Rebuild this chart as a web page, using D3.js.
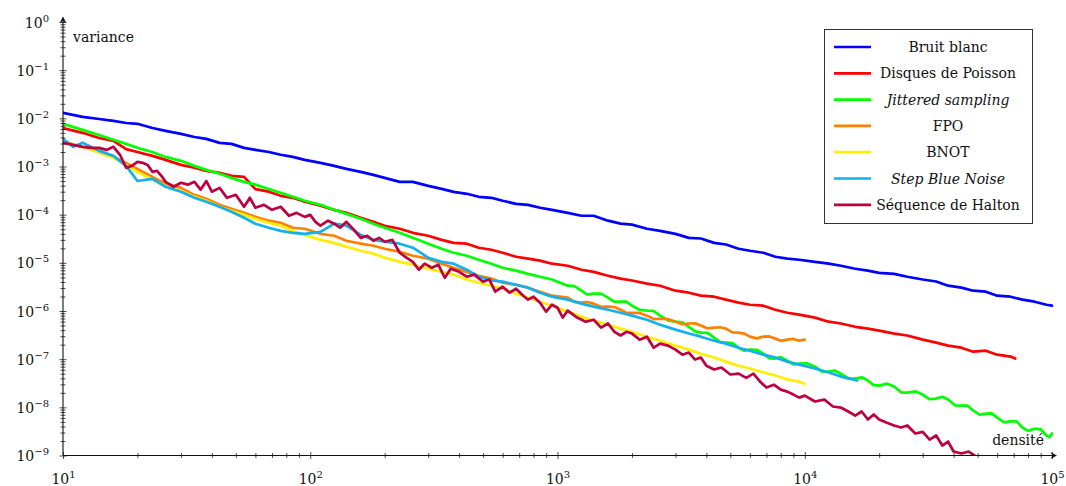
<!DOCTYPE html>
<html><head><meta charset="utf-8">
<script src="https://cdn.jsdelivr.net/npm/d3@7"></script>
<style>
body{margin:0;background:#fff}
svg{display:block}
text{font-family:"DejaVu Serif","Liberation Serif",serif;fill:#111}
</style>
</head><body>
<svg id="chart" width="1066" height="486"></svg>
<script>
// ---- data: [densité, variance] ----
const bruitBlanc = [[10,1.30e-2],[12,1.07e-2],[14,9.7e-3],[16,8.85e-3],[18,8.0e-3],[20,7.7e-3],[23,6.3e-3],[26,5.5e-3],[30,4.75e-3],[34,4.1e-3],[38,3.75e-3],[43,3.1e-3],[48,2.95e-3],[54,2.44e-3],[60,2.22e-3],[68,2.0e-3],[76,1.75e-3],[85,1.58e-3],[95,1.37e-3],
[110,1.19e-3],[125,1.03e-3],[140,8.95e-4],[160,7.75e-4],[180,6.7e-4],[200,5.8e-4],[230,4.8e-4],[260,4.8e-4],[300,3.97e-4],[340,3.44e-4],[380,2.98e-4],[430,2.71e-4],[480,2.35e-4],[540,2.24e-4],[600,1.94e-4],[680,1.68e-4],[760,1.60e-4],[850,1.39e-4],[950,1.26e-4],
[1100,1.09e-4],[1250,9.5e-5],[1400,9.5e-5],[1600,7.5e-5],[1800,6.5e-5],[2000,6.2e-5],[2300,5.1e-5],[2600,4.6e-5],[3000,4.0e-5],[3400,3.3e-5],[3800,3.2e-5],[4300,2.6e-5],[4800,2.4e-5],[5400,1.96e-5],[6000,1.78e-5],[6800,1.62e-5],[7600,1.34e-5],[8500,1.22e-5],[9500,1.16e-5],
[11000,1.05e-5],[12500,9.6e-6],[14000,8.7e-6],[16000,7.55e-6],[18000,6.9e-6],[20000,6.2e-6],[23000,5.9e-6],[26000,5.15e-6],[30000,4.5e-6],[34000,4.1e-6],[38000,3.35e-6],[43000,3.05e-6],[48000,2.64e-6],[54000,2.52e-6],[60000,2.08e-6],[68000,1.98e-6],[76000,1.72e-6],[85000,1.56e-6],[95000,1.35e-6],[100000,1.29e-6]];

const disquesPoisson = [[10,6.3e-3],[12,5.0e-3],[14,3.9e-3],[16,3.4e-3],[18,2.3e-3],[20,2.0e-3],[23,1.66e-3],[26,1.37e-3],[30,1.08e-3],[34,9.4e-4],[38,8.1e-4],[43,7.4e-4],[48,6.4e-4],[54,6.1e-4],[60,3.4e-4],[68,3.0e-4],[76,2.46e-4],[85,2.24e-4],[95,1.85e-4],
[110,1.53e-4],[125,1.26e-4],[140,1.09e-4],[160,8.6e-5],[180,7.1e-5],[200,5.9e-5],[230,5.1e-5],[260,4.2e-5],[300,3.65e-5],[340,3.0e-5],[380,2.6e-5],[430,2.5e-5],[480,2.06e-5],[540,1.87e-5],[600,1.62e-5],[680,1.34e-5],[760,1.22e-5],[850,1.11e-5],[950,9.6e-6],
[1100,8.7e-6],[1250,7.2e-6],[1400,6.5e-6],[1600,5.4e-6],[1800,4.7e-6],[2000,4.3e-6],[2300,3.7e-6],[2600,3.35e-6],[3000,2.64e-6],[3400,2.4e-6],[3800,2.08e-6],[4300,1.98e-6],[4800,1.72e-6],[5400,1.49e-6],[6000,1.35e-6],[6800,1.29e-6],[7600,1.06e-6],[8500,9.2e-7],[9500,8.4e-7],
[11000,7.3e-7],[12500,6.0e-7],[14000,5.5e-7],[16000,4.7e-7],[18000,4.3e-7],[20000,3.9e-7],[23000,3.4e-7],[26000,3.1e-7],[30000,2.54e-7],[34000,2.2e-7],[38000,1.91e-7],[43000,1.73e-7],[48000,1.43e-7],[54000,1.5e-7],[60000,1.24e-7],[68000,1.13e-7],[71000,1.03e-7]];

const jittered = [[10,7.7e-3],[12,5.75e-3],[14,4.5e-3],[16,3.6e-3],[18,2.95e-3],[20,2.44e-3],[23,2.0e-3],[26,1.58e-3],[30,1.31e-3],[34,1.03e-3],[38,8.5e-4],[43,7.05e-4],[48,5.8e-4],[54,4.8e-4],[60,4.2e-4],[68,3.4e-4],[76,2.84e-4],[85,2.35e-4],[95,1.94e-4],
[110,1.6e-4],[125,1.26e-4],[140,1.04e-4],[160,8.2e-5],[180,6.5e-5],[200,5.35e-5],[230,4.2e-5],[260,3.3e-5],[300,2.5e-5],[340,1.96e-5],[380,1.62e-5],[430,1.4e-5],[480,1.16e-5],[540,9.6e-6],[600,7.9e-6],[680,6.9e-6],[760,5.9e-6],[850,5.15e-6],[950,4.5e-6],
[1100,3.35e-6],[1170,3.3e-6],[1250,2.64e-6],[1320,2.2e-6],[1400,2.29e-6],[1500,2.3e-6],[1600,1.89e-6],[1700,1.55e-6],[1800,1.56e-6],[1900,1.56e-6],[2000,1.29e-6],[2150,1.06e-6],[2300,1.02e-6],[2450,1.0e-6],[2600,8.0e-7],[2800,6.4e-7],[3000,6.0e-7],[3200,5.8e-7],[3400,4.7e-7],[3600,3.8e-7],[3800,3.55e-7],[4050,3.5e-7],[4300,2.8e-7],[4550,2.25e-7],[4800,2.2e-7],[5100,2.15e-7],[5400,1.73e-7],[5700,1.5e-7],[6000,1.58e-7],[6400,1.57e-7],[6800,1.3e-7],[7200,1.04e-7],[7600,1.03e-7],[8000,1.1e-7],[8500,9.3e-8],[9000,7.8e-8],[9500,8.1e-8],
[10200,8.2e-8],[11000,7.0e-8],[11700,5.6e-8],[12500,5.5e-8],[13200,5.8e-8],[14000,5.0e-8],[15000,4.0e-8],[16000,3.95e-8],[17000,4.2e-8],[18000,3.6e-8],[19000,2.9e-8],[20000,2.83e-8],[21500,3.1e-8],[23000,2.7e-8],[24500,2.05e-8],[26000,2.02e-8],[28000,2.15e-8],[30000,1.84e-8],[32000,1.47e-8],[34000,1.52e-8],[36000,1.66e-8],[38000,1.45e-8],[40500,1.1e-8],[43000,1.09e-8],[45500,1.09e-8],[48000,8.6e-9],[51000,7.0e-9],[54000,7.4e-9],[57000,7.5e-9],[60000,6.1e-9],[64000,4.9e-9],[68000,5.1e-9],[72000,5.1e-9],[76000,3.8e-9],[80000,3.25e-9],[85000,3.6e-9],[90000,3.5e-9],[95000,2.6e-9],[97500,2.4e-9],[100000,2.86e-9]];

const fpo = [[10,3.25e-3],[12,2.56e-3],[14,2.11e-3],[16,1.58e-3],[18,1.19e-3],[20,8.9e-4],[23,6.1e-4],[26,4.4e-4],[30,3.6e-4],[34,2.58e-4],[38,2.13e-4],[43,1.6e-4],[48,1.32e-4],[54,1.09e-4],[60,9.0e-5],[68,7.5e-5],[76,6.8e-5],[85,5.35e-5],[95,5.1e-5],
[110,4.0e-5],[125,3.65e-5],[140,2.87e-5],[160,2.5e-5],[180,2.26e-5],[200,1.96e-5],[230,1.70e-5],[260,1.4e-5],[300,1.22e-5],[340,9.6e-6],[380,7.9e-6],[430,6.5e-6],[480,5.4e-6],[540,4.7e-6],[600,3.86e-6],[680,3.5e-6],[760,3.05e-6],[850,2.52e-6],[950,2.08e-6],
[1100,1.89e-6],[1170,1.55e-6],[1250,1.49e-6],[1320,1.54e-6],[1400,1.42e-6],[1500,1.22e-6],[1600,1.23e-6],[1700,1.21e-6],[1800,1.06e-6],[1900,9.1e-7],[2000,9.2e-7],[2150,9.1e-7],[2300,8.0e-7],[2450,6.8e-7],[2600,6.9e-7],[2800,6.8e-7],[3000,6.0e-7],[3200,5.3e-7],[3400,5.5e-7],[3600,5.55e-7],[3800,5.0e-7],[4050,4.35e-7],[4300,4.5e-7],[4550,4.6e-7],[4800,4.3e-7],[5100,3.6e-7],[5400,3.55e-7],[5700,3.4e-7],[6000,2.93e-7],[6400,2.7e-7],[6800,2.93e-7],[7200,2.97e-7],[7600,2.67e-7],[8000,2.4e-7],[8500,2.54e-7],[9000,2.63e-7],[9500,2.42e-7],[10000,2.54e-7]];

const bnot = [[10,3.25e-3],[12,2.56e-3],[14,1.92e-3],[16,1.51e-3],[18,1.08e-3],[20,7.75e-4],[23,5.3e-4],[26,3.97e-4],[30,3.1e-4],[34,2.35e-4],[38,1.94e-4],[43,1.46e-4],[48,1.2e-4],[54,9.9e-5],[60,8.2e-5],[68,6.8e-5],[76,5.9e-5],[85,4.6e-5],[95,3.8e-5],
[110,3.0e-5],[125,2.6e-5],[140,2.16e-5],[160,1.78e-5],[180,1.55e-5],[200,1.28e-5],[230,1.05e-5],[260,9.1e-6],[300,7.55e-6],[340,6.5e-6],[380,5.7e-6],[430,4.5e-6],[480,3.86e-6],[540,3.35e-6],[600,2.9e-6],[680,2.29e-6],[760,1.89e-6],[850,1.56e-6],[950,1.29e-6],
[1100,9.7e-7],[1250,7.6e-7],[1400,6.3e-7],[1600,5.2e-7],[1800,4.3e-7],[2000,3.7e-7],[2300,2.93e-7],[2600,2.42e-7],[3000,1.91e-7],[3400,1.58e-7],[3800,1.3e-7],[4300,1.08e-7],[4800,8.9e-8],[5400,7.3e-8],[6000,6.4e-8],[6800,5.3e-8],[7600,4.6e-8],[8500,3.8e-8],[9500,3.4e-8],[10000,3.1e-8]];

const stepBlueNoise = [[10,3.75e-3],[11,2.56e-3],[12,3.1e-3],[14,2.11e-3],[16,1.66e-3],[18,1.03e-3],[20,5.0e-4],[23,5.55e-4],[26,3.8e-4],[30,3.0e-4],[34,2.24e-4],[38,1.85e-4],[43,1.46e-4],[48,1.15e-4],[54,8.6e-5],[60,6.5e-5],[68,5.35e-5],[76,4.6e-5],[85,4.2e-5],[95,4.0e-5],
[110,4.4e-5],[125,6.5e-5],[140,5.9e-5],[160,3.8e-5],[180,3.0e-5],[200,2.74e-5],[230,2.5e-5],[260,2.06e-5],[300,1.28e-5],[340,1.05e-5],[380,9.6e-6],[430,7.2e-6],[480,5.15e-6],[540,4.3e-6],[600,4.06e-6],[680,3.5e-6],[760,3.05e-6],[850,2.4e-6],[950,1.98e-6],
[1100,1.72e-6],[1250,1.42e-6],[1400,1.23e-6],[1600,1.06e-6],[1800,9.2e-7],[2000,8.0e-7],[2300,6.6e-7],[2600,5.2e-7],[3000,4.1e-7],[3400,3.4e-7],[3800,2.93e-7],[4300,2.42e-7],[4800,2.1e-7],[5400,1.73e-7],[6000,1.5e-7],[6800,1.24e-7],[7600,1.08e-7],[8500,8.9e-8],[9500,7.7e-8],
[11000,6.4e-8],[12500,5.3e-8],[14000,4.35e-8],[16300,3.6e-8]];

const halton = [[10,3.1e-3],[11,2.81e-3],[12,2.56e-3],[13,2.44e-3],[14,2.44e-3],[15,2.21e-3],[16,2.56e-3],[17,1.75e-3],[18,9.4e-4],[19,1.03e-3],[20,1.25e-3],[21,1.19e-3],[22,1.08e-3],[23,7.75e-4],[24,8.1e-4],[25,6.4e-4],[26,4.8e-4],[28,3.8e-4],[30,4.6e-4],[32,4.2e-4],[34,4.8e-4],[36,3.3e-4],[38,5.0e-4],[40,3.0e-4],[43,3.6e-4],[46,2.24e-4],[50,2.58e-4],[54,1.46e-4],[57,2.24e-4],[60,1.39e-4],[65,1.6e-4],[70,1.26e-4],[76,1.46e-4],[82,9.5e-5],[88,1.09e-4],[95,9.0e-5],
[100,9.9e-5],[105,7.1e-5],[110,5.9e-5],[118,7.5e-5],[125,6.5e-5],[132,5.35e-5],[140,7.1e-5],[150,4.9e-5],[160,3.3e-5],[170,3.65e-5],[180,2.87e-5],[190,3.3e-5],[200,2.74e-5],[215,3.0e-5],[230,1.62e-5],[245,1.28e-5],[260,1.05e-5],[275,7.2e-6],[290,9.6e-6],[310,7.9e-6],[330,9.1e-6],[350,4.9e-6],[370,7.55e-6],[400,6.5e-6],[430,5.15e-6],[460,5.7e-6],[500,4.06e-6],[530,4.5e-6],[560,2.52e-6],[600,3.2e-6],[640,2.4e-6],[680,2.9e-6],[720,2.18e-6],[760,1.72e-6],[800,1.98e-6],[850,1.49e-6],[900,9.7e-7],[950,1.35e-6],
[1000,1.17e-6],[1050,7.3e-7],[1100,1.02e-6],[1200,7.3e-7],[1300,6.0e-7],[1400,6.6e-7],[1500,4.5e-7],[1600,5.5e-7],[1700,3.7e-7],[1800,3.1e-7],[1900,3.7e-7],[2000,3.4e-7],[2150,2.54e-7],[2300,2.93e-7],[2450,1.73e-7],[2600,2.1e-7],[2800,1.91e-7],[3000,1.58e-7],[3200,1.24e-7],[3400,1.37e-7],[3600,9.8e-8],[3800,1.08e-7],[4000,7.3e-8],[4300,6.1e-8],[4600,6.7e-8],[5000,4.8e-8],[5400,5.0e-8],[5800,4.1e-8],[6200,5.0e-8],[6600,3.4e-8],[7000,2.57e-8],[7500,2.96e-8],[8000,2.33e-8],[8500,2.12e-8],[9000,1.84e-8],[9500,1.59e-8],
[10000,1.75e-8],[11000,1.32e-8],[12000,1.45e-8],[13000,1.04e-8],[14000,9.9e-9],[15000,8.2e-9],[16000,6.75e-9],[17000,8.2e-9],[18000,5.6e-9],[19000,7.1e-9],[20000,5.6e-9],[21500,4.8e-9],[23000,4.2e-9],[24500,3.8e-9],[26000,4.2e-9],[28000,2.86e-9],[30000,3.1e-9],[32000,2.14e-9],[34000,2.6e-9],[36000,1.61e-9],[38000,1.95e-9],[40000,1.21e-9],[43000,1.1e-9],[46000,1.21e-9],[50000,9.1e-10],[54000,8.3e-10]];

const seriesNames = ["Bruit blanc","Disques de Poisson","Jittered sampling","FPO","BNOT","Step Blue Noise","Séquence de Halton"];
const seriesData = [bruitBlanc, disquesPoisson, jittered, fpo, bnot, stepBlueNoise, halton];
const seriesColors = ["#0000ff","#ff0000","#00ff00","#ff8000","#ffee00","#12b0ec","#bf0040"];
const seriesItalic = [false,false,true,false,false,true,false];

const xTickExponents = [1,2,3,4,5];
const yTickExponents = [0,-1,-2,-3,-4,-5,-6,-7,-8,-9];
const xLabel = "densité";
const yLabel = "variance";

// ---- drawing ----
const svg = d3.select("#chart");
const x = d3.scaleLog().domain([10,1e5]).range([63,1052]);
const y = d3.scaleLog().domain([1e-9,1]).range([455.5,22]);

svg.append("defs").append("clipPath").attr("id","plotclip")
  .append("rect").attr("x",x.range()[0]).attr("y",0)
  .attr("width",x.range()[1]-x.range()[0]+2).attr("height",y.range()[0]);

const isMajor = t => Math.abs(Math.log10(t) - Math.round(Math.log10(t))) < 1e-6;
const minus = s => String(s).replace("-", "\u2212");

// lines
const line = d3.line().x(d => x(d[0])).y(d => y(d[1])).curve(d3.curveLinear);
const plot = svg.append("g").attr("clip-path","url(#plotclip)");
seriesData.forEach((data, i) => {
  plot.append("path").datum(data)
    .attr("d", line)
    .attr("fill","none")
    .attr("stroke", seriesColors[i])
    .attr("stroke-width", 2.7)
    .attr("stroke-linejoin","round")
    .attr("stroke-linecap","round");
});

// axes
const y0 = y.range()[0];
const x0 = x.range()[0];
const xMinor = x.ticks().filter(t => !isMajor(t));
const yMinor = y.ticks().filter(t => !isMajor(t));
const xMajor = xTickExponents.map(e => Math.pow(10, e));
const yMajor = yTickExponents.map(e => Math.pow(10, e));

function styleAxis(g, half, horizontal) {
  g.select(".domain").remove();
  g.selectAll(".tick line").attr("stroke","#222").attr("stroke-width",0.8);
  if (horizontal) g.selectAll(".tick line").attr("y1",-half).attr("y2",half);
  else g.selectAll(".tick line").attr("x1",-half).attr("x2",half);
}

const gxMinor = svg.append("g").attr("transform",`translate(0,${y0})`)
  .call(d3.axisBottom(x).tickValues(xMinor).tickFormat(() => ""));
styleAxis(gxMinor, 2.5, true);
const gyMinor = svg.append("g").attr("transform",`translate(${x0},0)`)
  .call(d3.axisLeft(y).tickValues(yMinor).tickFormat(() => ""));
styleAxis(gyMinor, 2.5, false);

const gx = svg.append("g").attr("transform",`translate(0,${y0})`)
  .call(d3.axisBottom(x).tickValues(xMajor).tickFormat(() => ""));
styleAxis(gx, 3.5, true);
gx.selectAll(".tick").each(function(d, i) {
  const t = d3.select(this).select("text")
    .attr("y", 28).attr("dy", 0).attr("font-size", 14).attr("fill","#111")
    .attr("text-anchor","middle").attr("font-family","DejaVu Serif, serif");
  t.text(null);
  t.append("tspan").text("10");
  t.append("tspan").attr("font-size",10).attr("dy",-6).text(minus(xTickExponents[i]));
});

const gy = svg.append("g").attr("transform",`translate(${x0},0)`)
  .call(d3.axisLeft(y).tickValues(yMajor).tickFormat(() => ""));
styleAxis(gy, 3.5, false);
gy.selectAll(".tick").each(function(d, i) {
  const t = d3.select(this).select("text")
    .attr("x", -14).attr("dy", 5).attr("font-size", 14).attr("fill","#111")
    .attr("text-anchor","end").attr("font-family","DejaVu Serif, serif");
  t.text(null);
  t.append("tspan").text("10");
  t.append("tspan").attr("font-size",10).attr("dy",-6).text(minus(yTickExponents[i]));
});

// axis lines with arrows
svg.append("line").attr("x1",x0).attr("x2",1054).attr("y1",y0).attr("y2",y0)
  .attr("stroke","#111").attr("stroke-width",1.1);
svg.append("line").attr("x1",x0).attr("x2",x0).attr("y1",y0).attr("y2",20)
  .attr("stroke","#111").attr("stroke-width",1.1);
svg.append("path").attr("d",`M${1057},${y0} L${1050.5},${y0-3.3} L${1052.5},${y0} L${1050.5},${y0+3.3} Z`).attr("fill","#111");
svg.append("path").attr("d",`M${x0},${16.5} L${x0-3.3},${23} L${x0},${21} L${x0+3.3},${23} Z`).attr("fill","#111");

svg.append("text").attr("x",73).attr("y",42).attr("font-size",14).text(yLabel);
svg.append("text").attr("x",1044).attr("y",445).attr("font-size",14).attr("text-anchor","end").text(xLabel);

// legend
const legend = svg.append("g");
legend.append("rect").attr("x",824.5).attr("y",29.5).attr("width",208).attr("height",194)
  .attr("fill","#fff").attr("stroke","#333").attr("stroke-width",1);
seriesNames.forEach((name, i) => {
  const ly = 47 + i * 26.3;
  legend.append("line").attr("x1",834).attr("x2",871).attr("y1",ly).attr("y2",ly)
    .attr("stroke",seriesColors[i]).attr("stroke-width",2.7);
  legend.append("text").attr("x",948).attr("y",ly+5).attr("font-size",14)
    .attr("text-anchor","middle").attr("font-style", seriesItalic[i] ? "italic" : "normal")
    .text(name);
});
</script>
</body></html>
